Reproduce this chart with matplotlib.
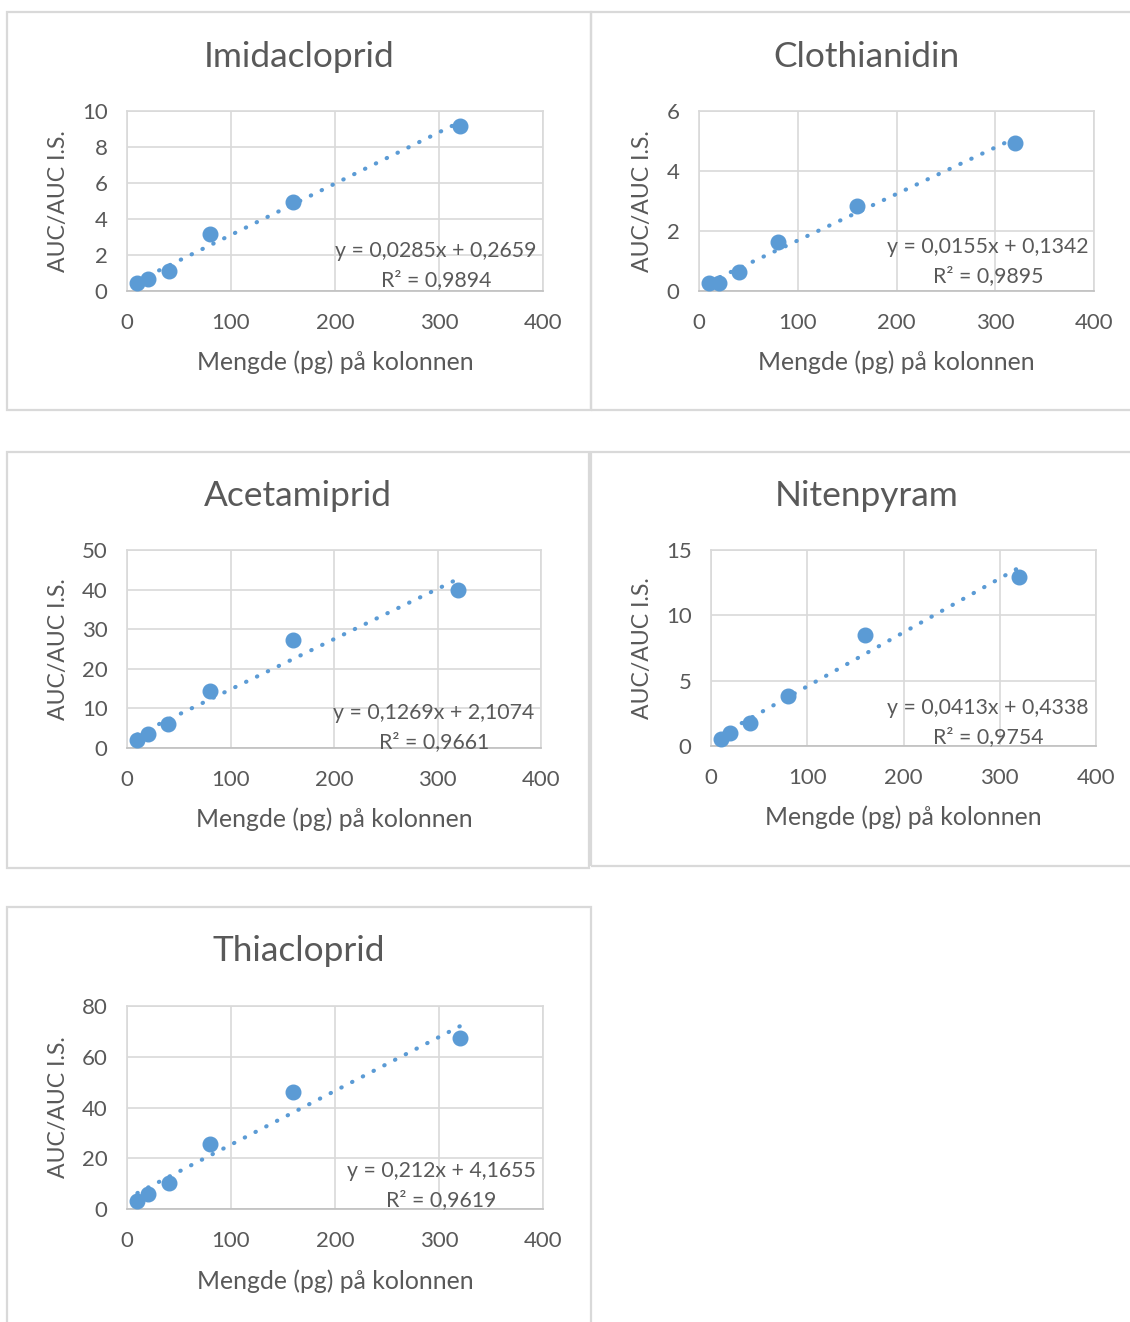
import numpy as np
import matplotlib
matplotlib.use('Agg')
import matplotlib.pyplot as plt
from matplotlib.patches import Rectangle

plt.rcParams['font.family'] = ['Lato', 'DejaVu Sans']

W, H = 1130, 1322
TXT = '#595959'
GRID = '#D9D9D9'
BLUE = '#5B9BD5'

# data
mengde = [10, 20, 40, 80, 160, 320]
names = ['Imidacloprid', 'Clothianidin', 'Acetamiprid', 'Nitenpyram', 'Thiacloprid']
y_imi = [0.42, 0.68, 1.13, 3.19, 4.96, 9.19]
y_clo = [0.26, 0.28, 0.63, 1.63, 2.85, 4.95]
y_ace = [2.0, 3.5, 5.95, 14.3, 27.2, 40.0]
y_nit = [0.5, 0.97, 1.78, 3.86, 8.52, 12.92]
y_thi = [3.0, 5.8, 10.3, 25.6, 46.0, 67.5]
slopes = [0.0285, 0.0155, 0.1269, 0.0413, 0.212]
intercepts = [0.2659, 0.1342, 2.1074, 0.4338, 4.1655]
r2 = [0.9894, 0.9895, 0.9661, 0.9754, 0.9619]
ymax = [10, 6, 50, 15, 80]
ystep = [2, 2, 10, 5, 20]
ydata = [y_imi, y_clo, y_ace, y_nit, y_thi]

# layout in pixels: plot area (left, right, top, bottom), chart box (x0, x1, y0, y1)
plot_px = [(127, 543, 111, 291), (699, 1094, 111, 291), (127, 541, 550, 748),
           (711, 1096, 550, 746), (127, 543, 1006, 1209)]
box_px = [(7, 591, 12, 410), (591, 1140, 12, 410), (7, 589, 452, 868),
          (591, 1140, 452, 866), (7, 591, 907, 1330)]
title_px = [(299, 57), (866, 57), (298, 496), (867, 496), (299, 951)]
ylab_x = [58, 642, 58, 642, 58]
xlab_y = [362, 362, 819, 817, 1281]
eq_px = [(436, 251), (988, 247), (434, 713), (988, 708), (441, 1171)]


def fx(x):
    return x / W


def fy(y):
    return 1 - y / H


fig = plt.figure(figsize=(W / 100, H / 100), dpi=100)

for (x0, x1, y0, y1) in box_px:
    fig.patches.append(Rectangle((fx(x0), fy(y1)), fx(x1 - x0), (y1 - y0) / H,
                                 transform=fig.transFigure, fill=False,
                                 edgecolor='#D9D9D9', linewidth=1.6))

for i in range(5):
    l, r, t, b = plot_px[i]
    ax = fig.add_axes([fx(l), fy(b), fx(r - l), (b - t) / H])
    ax.set_xlim(0, 400)
    ax.set_ylim(0, ymax[i])
    ax.set_xticks(np.arange(0, 401, 100))
    ax.set_yticks(np.arange(0, ymax[i] + 0.1, ystep[i]))
    ax.grid(True, color=GRID, linewidth=1.2)
    ax.set_axisbelow(True)
    for s in ['top', 'right', 'left']:
        ax.spines[s].set_color(GRID)
        ax.spines[s].set_linewidth(1.2)
    ax.spines['bottom'].set_color('#BFBFBF')
    ax.spines['bottom'].set_linewidth(1.2)
    ax.tick_params(length=0, labelsize=16, labelcolor=TXT)
    ax.tick_params(axis='x', pad=16)
    ax.tick_params(axis='y', pad=14)

    xs = np.array([min(mengde), max(mengde)])
    ax.plot(xs, slopes[i] * xs + intercepts[i], color=BLUE, linewidth=3.0,
            linestyle=(0, (0.1, 2.8)), dash_capstyle='round', zorder=3)
    ax.plot(mengde, ydata[i], 'o', color=BLUE, markersize=10.5, zorder=4,
            clip_on=False)

    fig.text(fx((l + r) / 2), fy(xlab_y[i]), 'Mengde (pg) på kolonnen',
             ha='center', va='center', fontsize=17.8, color=TXT)
    fig.text(fx(ylab_x[i]), fy((t + b) / 2), 'AUC/AUC I.S.', rotation=90,
             ha='center', va='center', fontsize=16.6, color=TXT)
    fig.text(fx(title_px[i][0]), fy(title_px[i][1]), names[i], ha='center',
             va='center', fontsize=25.4, color=TXT)

    eq = 'y = ' + ('%g' % slopes[i]).replace('.', ',') + 'x + ' + \
         ('%g' % intercepts[i]).replace('.', ',')
    ex, ey = eq_px[i]
    fig.text(fx(ex), fy(ey), eq, ha='center', va='center', fontsize=15.3, color=TXT)
    fig.text(fx(ex), fy(ey + 29), 'R² = ' + ('%g' % r2[i]).replace('.', ','),
             ha='center', va='center', fontsize=15.3, color=TXT)

fig.savefig('out.png', dpi=100, facecolor='white')
